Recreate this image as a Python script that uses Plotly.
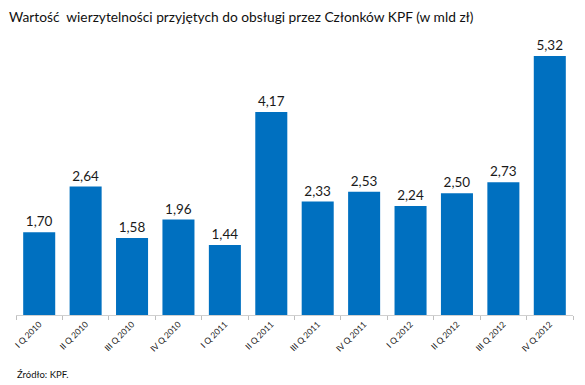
import plotly.graph_objects as go

categories = ["I Q 2010", "II Q 2010", "III Q 2010", "IV Q 2010", "I Q 2011", "II Q 2011",
              "III Q 2011", "IV Q 2011", "I Q 2012", "II Q 2012", "III Q 2012", "IV Q 2012"]
values = [1.70, 2.64, 1.58, 1.96, 1.44, 4.17, 2.33, 2.53, 2.24, 2.50, 2.73, 5.32]

title_text = "Wartość  wierzytelności przyjętych do obsługi przez Członków KPF (w mld zł)"
source_text = "Źródło: KPF."

# the page body adds an 8px offset; the figure is sized to fill the rest of the window
OFF = 8
W, H = 585 - OFF, 385 - OFF
ML, MR, MT, MB = 16 - OFF, 12, 23 - OFF, 70
pw = W - ML - MR
ph = H - MT - MB
FONT = "Lato, Open Sans, sans-serif"


def px_x(x):
    return (x - OFF - ML) / pw


def px_y(y):
    return (H - MB - (y - OFF)) / ph


fig = go.Figure(go.Bar(
    x=categories, y=values,
    marker=dict(color="#0070C0", line=dict(width=0)),
    texttemplate="%{y:.2f}", textposition="outside",
    textfont=dict(family=FONT, size=13.5, color="#1a1a1a"),
    cliponaxis=False,
))

fig.update_layout(
    width=W, height=H,
    margin=dict(l=ML, r=MR, t=MT, b=MB, autoexpand=False),
    paper_bgcolor="white", plot_bgcolor="white",
    separators=", ",
    bargap=0.31,
    showlegend=False,
    font=dict(family=FONT),
    annotations=[
        dict(text=title_text, x=px_x(7), y=px_y(17), xref="paper", yref="paper",
             showarrow=False, xanchor="left", yanchor="middle",
             font=dict(size=13.75, color="#111111", family=FONT)),
        dict(text=source_text, x=px_x(15), y=px_y(374), xref="paper", yref="paper",
             showarrow=False, xanchor="left", yanchor="middle",
             font=dict(size=9.5, color="#111111", family=FONT)),
    ],
)

fig.update_xaxes(
    type="category", tickson="boundaries", ticks="outside", ticklen=4, tickcolor="#bfbfbf",
    showline=True, linecolor="#d0d0d0", linewidth=1, showgrid=False, automargin=False,
    tickangle=-45, tickfont=dict(size=8.5, color="#222222", family=FONT),
)
fig.update_yaxes(range=[0, 6], visible=False, showgrid=False, zeroline=False, automargin=False)

fig.write_html("out.html")
